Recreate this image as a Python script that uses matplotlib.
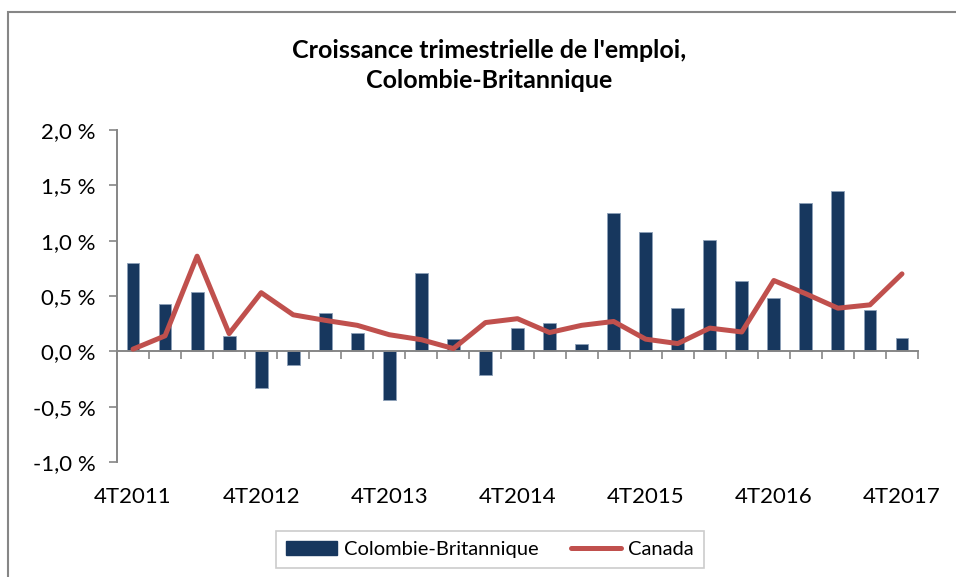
import matplotlib.pyplot as plt
from matplotlib.patches import Rectangle
from matplotlib.lines import Line2D
from matplotlib.patches import Patch
import numpy as np

plt.rcParams['font.family'] = ['Lato', 'DejaVu Sans']

# trimestres 4T2011 .. 4T2017
trimestres = ["4T2011", "1T2012", "2T2012", "3T2012", "4T2012", "1T2013", "2T2013",
              "3T2013", "4T2013", "1T2014", "2T2014", "3T2014", "4T2014", "1T2015",
              "2T2015", "3T2015", "4T2015", "1T2016", "2T2016", "3T2016", "4T2016",
              "1T2017", "2T2017", "3T2017", "4T2017"]

# croissance trimestrielle de l'emploi (%)
cb = [0.80, 0.43, 0.54, 0.14, -0.33, -0.12, 0.35, 0.17, -0.44, 0.71, 0.11, -0.21, 0.21,
      0.26, 0.07, 1.25, 1.08, 0.39, 1.01, 0.64, 0.48, 1.34, 1.45, 0.37, 0.12]
canada = [0.02, 0.14, 0.86, 0.16, 0.53, 0.33, 0.28, 0.235, 0.15, 0.105, 0.025, 0.26, 0.295,
          0.17, 0.235, 0.27, 0.11, 0.07, 0.21, 0.175, 0.64, 0.52, 0.39, 0.42, 0.70]

bleu = "#17375E"
rouge = "#C0504D"
gris = "#868686"

fig = plt.figure(figsize=(9.56, 5.77), dpi=100)
ax = fig.add_axes([117 / 956, 1 - 462 / 577, (918 - 117) / 956, (462 - 130) / 577])

x = np.arange(len(trimestres))
ax.bar(x, cb, width=0.4, color=bleu, edgecolor="#8DA0B8", linewidth=0.6, zorder=2)
ax.plot(x, canada, color=rouge, lw=3.6, solid_capstyle="round", solid_joinstyle="round", zorder=3)

ax.set_xlim(-0.5, len(trimestres) - 0.5)
ax.set_ylim(-1.0, 2.0)

yt = np.arange(-1.0, 2.01, 0.5)
ax.set_yticks(yt)
ax.set_yticklabels([f"{v:.1f}".replace(".", ",") + " %" for v in yt], fontsize=16)
ax.tick_params(axis="y", direction="out", length=5.5, width=1.2, color=gris, pad=10)

ax.set_xticks(np.arange(-0.5, len(trimestres), 1.0))
ax.set_xticklabels([])
ax.tick_params(axis="x", direction="out", length=6, width=1.2, color=gris)

for i in range(0, len(trimestres), 4):
    ax.text(i, -0.105, trimestres[i], transform=ax.get_xaxis_transform(),
            ha="center", va="center", fontsize=16)

for s in ["top", "right"]:
    ax.spines[s].set_visible(False)
ax.spines["bottom"].set_position(("data", 0))
ax.spines["bottom"].set_color(gris)
ax.spines["left"].set_color(gris)
ax.spines["bottom"].set_linewidth(1.4)
ax.spines["left"].set_linewidth(1.4)

fig.text(489 / 956, 1 - 50 / 577, "Croissance trimestrielle de l'emploi,",
         ha="center", va="center", fontsize=18, fontweight="bold")
fig.text(489 / 956, 1 - 81 / 577, "Colombie-Britannique",
         ha="center", va="center", fontsize=18, fontweight="bold")

handles = [Patch(color=bleu), Line2D([0], [0], color=rouge, lw=3.6, solid_capstyle="round")]
leg = fig.legend(handles, ["Colombie-Britannique", "Canada"], loc="center",
                 bbox_to_anchor=(490 / 956, 1 - 549.5 / 577), ncol=2, fontsize=14.5,
                 frameon=True, fancybox=False, edgecolor="#BFBFBF", handlelength=2.5,
                 handletextpad=0.35, columnspacing=1.6, borderpad=0.5, borderaxespad=0)
leg.get_frame().set_linewidth(1.2)

fig.patches.append(Rectangle((8 / 956, -0.1), 1.2, 1 - 12 / 577 + 0.1, transform=fig.transFigure,
                             fill=False, edgecolor=gris, linewidth=1.5))

fig.savefig("out.png", dpi=100)
